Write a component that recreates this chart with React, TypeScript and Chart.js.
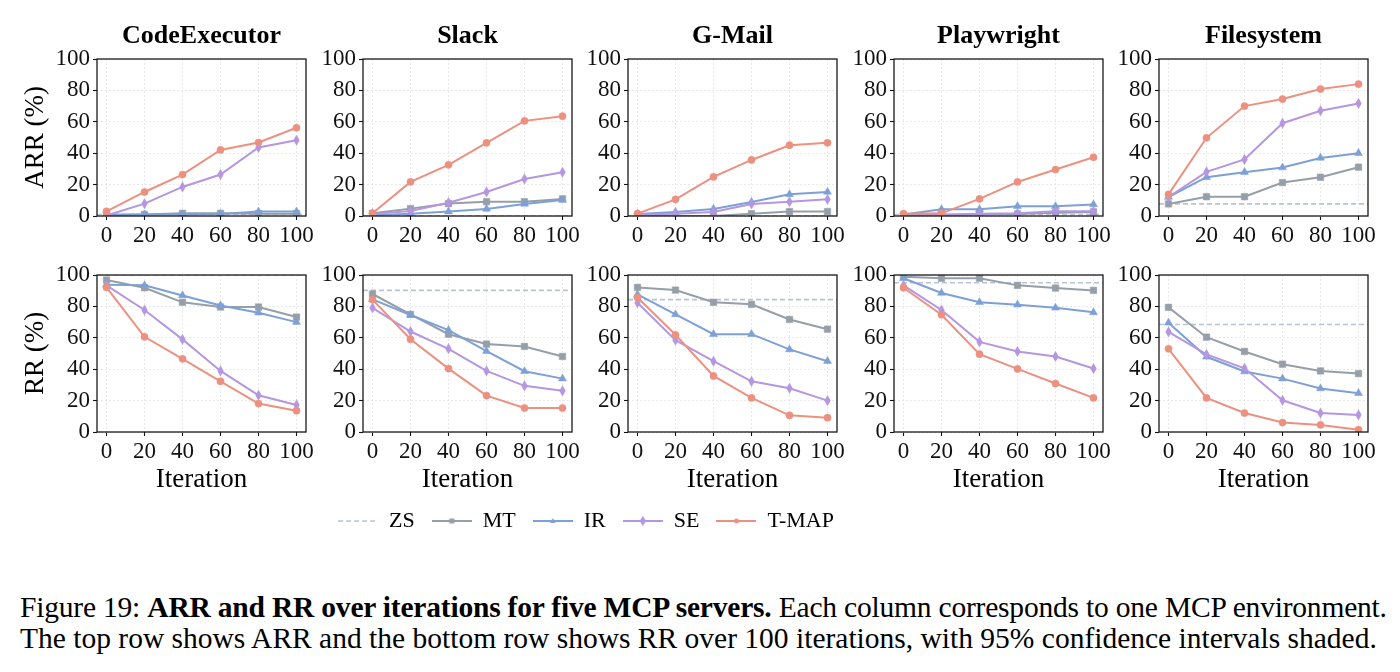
import React, { useEffect, useRef } from 'react';
import { Chart, registerables } from 'chart.js';

Chart.register(...registerables);

// ---- data ----
const iterations = [0, 20, 40, 60, 80, 100];
const servers = ['CodeExecutor', 'Slack', 'G-Mail', 'Playwright', 'Filesystem'];
const methods = ['ZS', 'MT', 'IR', 'SE', 'T-MAP'];
const axisTicks = [0, 20, 40, 60, 80, 100];

// ARR (%) per server (rows follow `servers`), one value per iteration
const arrZS = [1, 0, 0, 1, 7.7];
const arrMT = [
  [0.5, 1, 1.7, 1.7, 1.5, 1.5],
  [1.7, 4.7, 7.9, 9.1, 9.1, 10.9],
  [0, 0, 0, 1.5, 2.8, 2.8],
  [0.5, 0.5, 1, 1.3, 2.1, 2.6],
  [7.7, 12.3, 12.3, 21.3, 24.7, 31.1],
];
const arrIR = [
  [1, 1, 1, 1.3, 2.8, 2.8],
  [0.5, 1.5, 2.8, 4.5, 7.7, 10.2],
  [1.3, 2.6, 4.5, 8.9, 13.8, 15.3],
  [0.9, 4.3, 4.3, 6.2, 6.2, 7.4],
  [12.1, 24.7, 27.9, 30.9, 37, 40],
];
const arrSE = [
  [0.3, 7.9, 18.5, 26.4, 43.6, 48.3],
  [1.3, 3.2, 8.5, 15.3, 23.6, 27.9],
  [0.9, 1.5, 2.6, 7.7, 9.1, 10.6],
  [0, 0.9, 1.5, 1.7, 3, 3],
  [12.1, 28.1, 36, 59.1, 67, 71.7],
];
const arrTMAP = [
  [3, 15.3, 26.4, 42.1, 46.8, 56.2],
  [1.7, 21.7, 32.6, 46.6, 60.6, 63.6],
  [1.5, 10.6, 24.9, 35.7, 45.1, 46.6],
  [1.5, 1.7, 10.9, 21.7, 29.6, 37.4],
  [13.8, 49.8, 70, 74.5, 80.9, 84],
];

// RR (%) per server
const rrZS = [100, 90.2, 84.3, 95.1, 68.5];
const rrMT = [
  [96.8, 91.9, 82.6, 79.6, 79.6, 73.2],
  [87.9, 74.9, 62.3, 56, 54.5, 48.1],
  [92.1, 90.4, 82.6, 81.3, 71.7, 65.5],
  [98.9, 97.9, 97.9, 93.4, 91.7, 90.2],
  [79.4, 60.4, 51.3, 43.2, 38.9, 37.2],
];
const rrIR = [
  [93.8, 93.4, 87, 80.6, 76, 70],
  [84.5, 74.5, 64.9, 51.5, 38.7, 34],
  [87.7, 74.9, 62.3, 62.3, 52.6, 45.1],
  [97.9, 88.5, 82.6, 81.1, 79.1, 76.2],
  [69.6, 47.9, 38.5, 34, 27.7, 24.7],
];
const rrSE = [
  [93.4, 77.7, 59, 38.9, 23.4, 17.2],
  [79.1, 64, 53, 38.9, 29.4, 26.2],
  [82.3, 58.5, 45.1, 32.3, 27.9, 20],
  [93.4, 77.7, 57.4, 51.3, 48.1, 40.4],
  [63.8, 49.4, 40.6, 20.2, 12.1, 10.9],
];
const rrTMAP = [
  [92.1, 60.6, 46.6, 32.3, 18.1, 13.6],
  [84.3, 59.1, 40.4, 23.2, 15.3, 15.3],
  [85.7, 61.9, 35.7, 21.7, 10.6, 9.1],
  [91.9, 74.7, 49.6, 40.2, 30.9, 21.7],
  [53, 21.7, 12.1, 6, 4.5, 1.5],
];

const rowLabels = ['ARR (%)', 'RR (%)'];
const xLabel = 'Iteration';

// ---- styling ----
const SERIF = '"Liberation Serif", "Times New Roman", serif';
const COLORS: Record<string, string> = {
  ZS: '#b9c3d7',
  MT: '#969ea8',
  IR: '#7da0d7',
  SE: '#b596e1',
  'T-MAP': '#ec9180',
};
const MARKERS: Record<string, string> = { MT: 'rect', IR: 'triangle', SE: 'thinDiamond', 'T-MAP': 'circle' };

const X_MIN = -5;
const X_MAX = 105;
const PLOT_LEFTS = [97, 363, 628, 894, 1159];
const PLOT_TOPS = [59, 275];
const PLOT_W = 209;
const PLOT_H = 157;
const RIGHT_PAD = 10;

function geometry(row: number, col: number) {
  const yW = col === 0 ? 97 : 60;
  const topH = row === 0 ? 49 : 15;
  const xH = row === 0 ? 35 : 70;
  return {
    yW,
    topH,
    xH,
    left: PLOT_LEFTS[col] - yW,
    top: PLOT_TOPS[row] - topH,
    width: yW + PLOT_W + RIGHT_PAD,
    height: topH + PLOT_H + xH,
  };
}

function makeCanvas(w: number, h: number) {
  const c = document.createElement('canvas');
  c.width = w;
  c.height = h;
  return c;
}

function drawMarker(ctx: CanvasRenderingContext2D, kind: string, cx: number, cy: number, s: number, color: string) {
  ctx.fillStyle = color;
  ctx.beginPath();
  if (kind === 'rect') {
    ctx.rect(cx - s / 2, cy - s / 2, s, s);
  } else if (kind === 'triangle') {
    ctx.moveTo(cx, cy - s * 0.6);
    ctx.lineTo(cx + s * 0.55, cy + s * 0.4);
    ctx.lineTo(cx - s * 0.55, cy + s * 0.4);
    ctx.closePath();
  } else if (kind === 'thinDiamond') {
    ctx.moveTo(cx, cy - s * 0.65);
    ctx.lineTo(cx + s * 0.38, cy);
    ctx.lineTo(cx, cy + s * 0.65);
    ctx.lineTo(cx - s * 0.38, cy);
    ctx.closePath();
  } else {
    ctx.arc(cx, cy, s / 2, 0, Math.PI * 2);
  }
  ctx.fill();
}

function thinDiamondImage(color: string) {
  const c = makeCanvas(7, 11);
  const ctx = c.getContext('2d')!;
  drawMarker(ctx, 'thinDiamond', 3.5, 5.5, 8.4, color);
  return c;
}

function legendIcon(method: string) {
  const c = makeCanvas(40, 14);
  const ctx = c.getContext('2d')!;
  const color = COLORS[method];
  ctx.strokeStyle = color;
  ctx.lineWidth = method === 'ZS' ? 1.5 : 2;
  if (method === 'ZS') ctx.setLineDash([5, 3]);
  ctx.beginPath();
  ctx.moveTo(0, 7);
  ctx.lineTo(40, 7);
  ctx.stroke();
  ctx.setLineDash([]);
  if (MARKERS[method]) {
    const size = MARKERS[method] === 'thinDiamond' ? 8 : 5;
    drawMarker(ctx, MARKERS[method], 20, 7, size, color);
  }
  return c;
}

const framePlugin = {
  id: 'frame',
  afterDatasetsDraw(chart: any) {
    const a = chart.chartArea;
    const ctx = chart.ctx;
    ctx.save();
    ctx.strokeStyle = '#1a1a1a';
    ctx.lineWidth = 1.3;
    ctx.strokeRect(a.left, a.top, a.right - a.left, a.bottom - a.top);
    ctx.restore();
  },
};

function seriesFor(row: number) {
  return row === 0
    ? { ZS: arrZS, MT: arrMT, IR: arrIR, SE: arrSE, 'T-MAP': arrTMAP }
    : { ZS: rrZS, MT: rrMT, IR: rrIR, SE: rrSE, 'T-MAP': rrTMAP };
}

function buildConfig(row: number, col: number, diamond: HTMLCanvasElement): any {
  const g = geometry(row, col);
  const src: any = seriesFor(row);
  const zs = src.ZS[col];

  const datasets: any[] = [];
  // Later methods sit on top: lower `order` is drawn last
  ['T-MAP', 'SE', 'IR', 'MT'].forEach((m, i) => {
    const vals: number[] = src[m][col];
    const kind = MARKERS[m];
    datasets.push({
      label: m,
      order: i,
      data: iterations.map((x, k) => ({ x, y: vals[k] })),
      borderColor: COLORS[m],
      backgroundColor: COLORS[m],
      pointBackgroundColor: COLORS[m],
      pointBorderColor: COLORS[m],
      pointBorderWidth: 0.5,
      borderWidth: 2,
      tension: 0,
      pointStyle: kind === 'thinDiamond' ? diamond : kind,
      pointRadius: kind === 'circle' ? 3.6 : 4.6,
    });
  });
  datasets.push({
    label: 'ZS',
    order: 4,
    data: [{ x: X_MIN, y: zs }, { x: X_MAX, y: zs }],
    borderColor: COLORS.ZS,
    borderWidth: 1.6,
    borderDash: [5, 3],
    pointRadius: 0,
  });

  const tickFont = { family: SERIF, size: 23 };
  const gridOpts = {
    color: '#e4e4e4',
    lineWidth: 0.8,
    tickColor: '#111',
    tickLength: 4,
    tickWidth: 1.1,
  };

  return {
    type: 'line',
    data: { datasets },
    plugins: [framePlugin],
    options: {
      responsive: false,
      animation: false,
      devicePixelRatio: 1,
      layout: { padding: { top: row === 0 ? 0 : g.topH, right: RIGHT_PAD, left: 0, bottom: 0 } },
      plugins: {
        legend: { display: false },
        tooltip: { enabled: false },
        title: row === 0
          ? {
              display: true,
              text: servers[col],
              fullSize: false,
              color: '#000',
              font: { family: SERIF, size: 26, weight: 'bold', lineHeight: 1.2 },
              padding: { top: 10.4, bottom: 7.4 },
            }
          : { display: false },
      },
      scales: {
        x: {
          type: 'linear',
          min: X_MIN,
          max: X_MAX,
          afterBuildTicks: (s: any) => {
            s.ticks = iterations.map((v) => ({ value: v }));
          },
          afterFit: (s: any) => {
            s.height = g.xH;
            s.paddingLeft = 0;
            s.paddingRight = 0;
          },
          grid: gridOpts,
          border: { display: false, dash: [2, 2] },
          ticks: {
            font: tickFont,
            color: '#111',
            padding: 2,
            maxRotation: 0,
            autoSkip: false,
            callback: (v: any) => String(v),
          },
          title: row === 1
            ? {
                display: true,
                text: xLabel,
                color: '#000',
                font: { family: SERIF, size: 27, lineHeight: 1.2 },
                padding: { top: 0, bottom: 6 },
              }
            : { display: false },
        },
        y: {
          min: 0,
          max: 100,
          afterBuildTicks: (s: any) => {
            s.ticks = axisTicks.map((v) => ({ value: v }));
          },
          afterFit: (s: any) => {
            s.width = g.yW;
            s.paddingTop = 0;
            s.paddingBottom = 0;
          },
          grid: gridOpts,
          border: { display: false, dash: [2, 2] },
          ticks: {
            font: tickFont,
            color: '#111',
            padding: 3,
            callback: (v: any) => String(v),
          },
          title: col === 0
            ? {
                display: true,
                text: rowLabels[row],
                color: '#000',
                font: { family: SERIF, size: 27, lineHeight: 1.2 },
                padding: { top: 20, bottom: 0 },
              }
            : { display: false },
        },
      },
    },
  };
}

function buildLegendConfig(): any {
  const items = methods.map((m, i) => ({
    text: m,
    pointStyle: legendIcon(m),
    fillStyle: COLORS[m],
    strokeStyle: COLORS[m],
    lineWidth: 0,
    hidden: false,
    datasetIndex: i,
    fontColor: '#000',
  }));
  return {
    type: 'line',
    data: { datasets: methods.map((m) => ({ label: m, data: [] })) },
    options: {
      responsive: false,
      animation: false,
      devicePixelRatio: 1,
      scales: { x: { display: false }, y: { display: false } },
      plugins: {
        tooltip: { enabled: false },
        legend: {
          display: true,
          position: 'top',
          labels: {
            usePointStyle: true,
            pointStyleWidth: 40,
            padding: 17,
            color: '#000',
            font: { family: SERIF, size: 22 },
            generateLabels: () => items,
          },
        },
      },
    },
  };
}

const LEGEND_BOX = { left: 236, top: 493, width: 700, height: 90 };

export default function App() {
  const refs = useRef<(HTMLCanvasElement | null)[]>([]);
  const legendRef = useRef<HTMLCanvasElement | null>(null);

  useEffect(() => {
    const charts: Chart[] = [];
    const diamond = thinDiamondImage(COLORS.SE);
    for (let row = 0; row < 2; row++) {
      for (let col = 0; col < servers.length; col++) {
        const canvas = refs.current[row * servers.length + col];
        if (canvas) charts.push(new Chart(canvas, buildConfig(row, col, diamond)));
      }
    }
    if (legendRef.current) charts.push(new Chart(legendRef.current, buildLegendConfig()));
    return () => charts.forEach((c) => c.destroy());
  }, []);

  const panels: React.ReactNode[] = [];
  for (let row = 0; row < 2; row++) {
    for (let col = 0; col < servers.length; col++) {
      const g = geometry(row, col);
      const idx = row * servers.length + col;
      panels.push(
        <canvas
          key={idx}
          ref={(el) => {
            refs.current[idx] = el;
          }}
          width={g.width}
          height={g.height}
          style={{ position: 'absolute', left: g.left, top: g.top, width: g.width, height: g.height }}
        />
      );
    }
  }

  return (
    <div style={{ position: 'fixed', left: 0, top: 0, width: 1400, height: 672, background: '#fff', overflow: 'hidden' }}>
      {panels}
      <canvas
        ref={legendRef}
        width={LEGEND_BOX.width}
        height={LEGEND_BOX.height}
        style={{ position: 'absolute', left: LEGEND_BOX.left, top: LEGEND_BOX.top, width: LEGEND_BOX.width, height: LEGEND_BOX.height }}
      />
      <div
        style={{
          position: 'absolute',
          left: 20,
          top: 592,
          fontFamily: SERIF,
          fontSize: 29.5,
          lineHeight: '31px',
          color: '#000',
        }}
      >
        <div style={{ whiteSpace: 'nowrap', letterSpacing: '-0.2px' }}>
          Figure 19: <b>ARR and RR over iterations for five MCP servers.</b> Each column corresponds to one MCP environment.
        </div>
        <div style={{ whiteSpace: 'nowrap' }}>
          The top row shows ARR and the bottom row shows RR over 100 iterations, with 95% confidence intervals shaded.
        </div>
      </div>
    </div>
  );
}
